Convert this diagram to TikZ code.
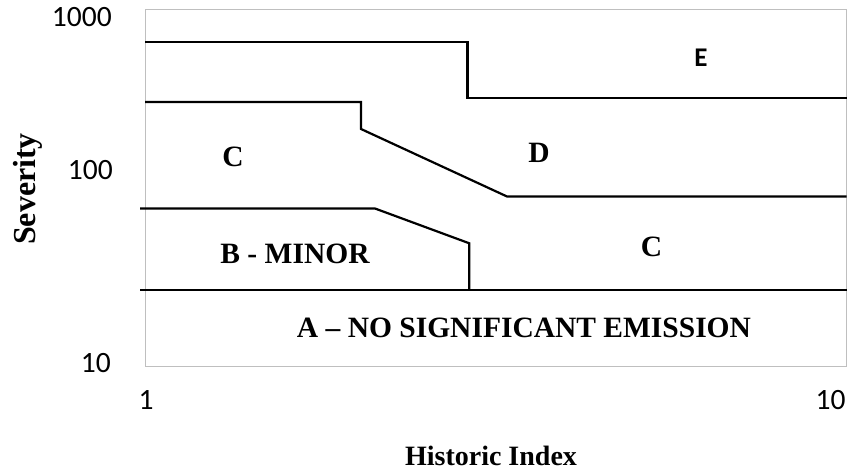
\documentclass[tikz,border=0pt]{standalone}
\usepackage{fontspec}
\setmainfont{Liberation Serif}
\newfontfamily\calib{Carlito}
\begin{document}
\begin{tikzpicture}[x=1pt,y=-1pt,
  frame/.style={draw=black!25,line width=1pt},
  zone/.style={draw=black,line width=2.2pt,line join=miter},
  ticklab/.style={font=\calib\fontsize{29.5}{31}\selectfont,inner sep=0pt},
  zonelab/.style={font=\bfseries\fontsize{29.5}{31}\selectfont,inner sep=0pt,anchor=base},
  axlab/.style={font=\bfseries\fontsize{28}{30}\selectfont,inner sep=0pt}]
\useasboundingbox (0,0) rectangle (848,473);
% plot frame
\draw[frame] (145,10) rectangle (846.5,366.7);
% zone boundaries
\draw[zone] (145,42) -- (467.5,42) -- (467.5,98) -- (846.5,98);
\draw[zone] (145,102) -- (361,102) -- (361,129) -- (507,196.5) -- (846.5,196.5);
\draw[zone] (140,208.5) -- (375,208.5) -- (469.3,243.3) -- (469.3,290);
\draw[zone] (140,290) -- (846.5,290);
% tick labels
\node[ticklab,anchor=base east] (y1000) at (112,27) {1000};
\node[ticklab,anchor=base east] (y100) at (113,180) {100};
\node[ticklab,anchor=base east] (y10) at (111,372) {10};
\node[ticklab,anchor=base] (x1) at (146,409) {1};
\node[ticklab,anchor=base] (x10) at (830.5,409) {10};
% zone labels
\node[zonelab,font=\calib\bfseries\fontsize{27}{29}\selectfont] (E) at (701,67) {E};
\node[zonelab] (C1) at (233,167) {C};
\node[zonelab] (D) at (539,163) {D};
\node[zonelab] (C2) at (651.5,256.5) {C};
\node[zonelab] (B) at (295,263) {B - MINOR};
\node[zonelab] (A) at (524,337) {A – NO SIGNIFICANT EMISSION};
% axis titles
\node[axlab,anchor=base] (xt) at (491,465) {Historic Index};
\node[axlab,font=\bfseries\fontsize{32}{34}\selectfont,rotate=90] (yt) at (27.5,189) {Severity};
\end{tikzpicture}
\end{document}
